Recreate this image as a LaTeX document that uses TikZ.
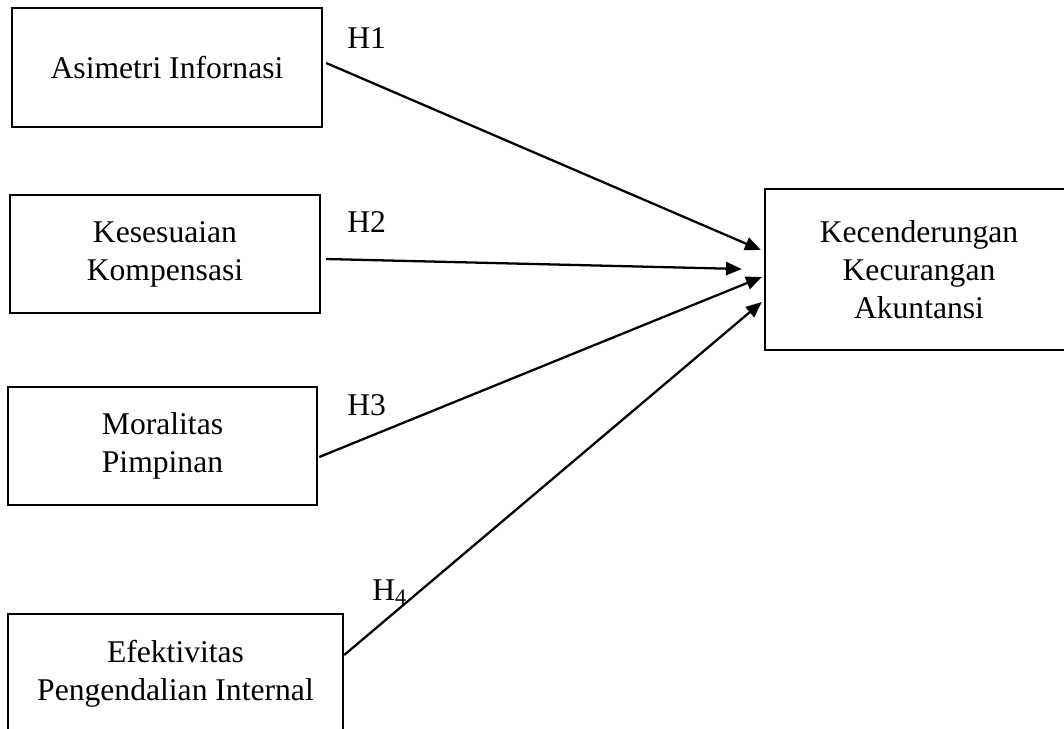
\documentclass[tikz,border=0pt]{standalone}
\usepackage{fontspec}
\setmainfont{Liberation Serif}
\usetikzlibrary{arrows.meta,calc}
\begin{document}
\begin{tikzpicture}[x=0.02cm,y=-0.02cm,
  varbox/.style={draw,line width=1.4pt,rectangle,align=center,inner sep=0pt,font=\fontsize{18}{21.5}\selectfont},
  hlabel/.style={anchor=base west,inner sep=0pt,font=\fontsize{18}{21}\selectfont},
  link/.style={line width=1.3pt,-{Triangle[length=9pt,width=7.5pt]}}]
\clip (0,0) rectangle (1064,728);
\node[varbox,minimum width=6.2cm,minimum height=2.38cm] (a) at (167,67.5) {Asimetri Infornasi};
\node[varbox,minimum width=6.2cm,minimum height=2.36cm] (b) at (165,254) {Kesesuaian\\Kompensasi};
\node[varbox,minimum width=6.18cm,minimum height=2.36cm] (c) at (162.5,446) {Moralitas\\Pimpinan};
\node[varbox,minimum width=6.7cm,minimum height=2.4cm] (d) at (175.5,674) {Efektivitas\\Pengendalian Internal};
\node[varbox,minimum width=6.16cm,minimum height=3.22cm] (e) at (919,269.5) {Kecenderungan\\Kecurangan\\Akuntansi};
\coordinate (a1) at ($(a.east)+(3,-4.5)$);
\coordinate (b1) at ($(b.east)+(5,5)$);
\coordinate (c1) at ($(c.east)+(1,11)$);
\coordinate (d1) at ($(d.east)+(0,-19)$);
\coordinate (ea) at ($(e.west)+(-3,-19.5)$);
\coordinate (eb) at ($(e.west)+(-22,-0.5)$);
\coordinate (ec) at ($(e.west)+(-2,7.5)$);
\coordinate (ed) at ($(e.west)+(-2,32.5)$);
\draw[link] (a1) -- (ea);
\draw[link] (b1) -- (eb);
\draw[link] (c1) -- (ec);
\draw[link] (d1) -- (ed);
\node[hlabel] (h1) at (347,48) {H1};
\node[hlabel] (h2) at (347,232) {H2};
\node[hlabel] (h3) at (347,415) {H3};
\node[hlabel] (h4) at (372,600) {H\textsubscript{4}};
\end{tikzpicture}
\end{document}
